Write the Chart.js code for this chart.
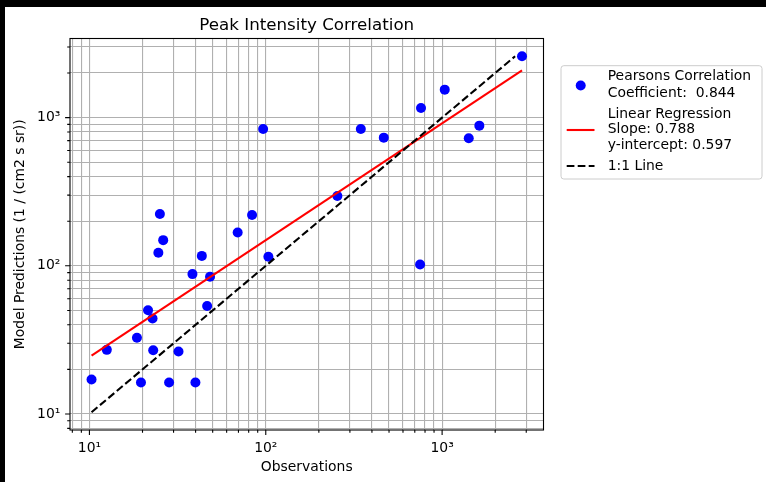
<!DOCTYPE html>
<html>
<head>
<meta charset="utf-8">
<title>Peak Intensity Correlation</title>
<script src="https://cdn.jsdelivr.net/npm/chart.js@4.4.0/dist/chart.umd.min.js"></script>
<style>
    html, body { margin:0; padding:0; background:#000; }
    #wrap { position:absolute; left:5px; top:7px; width:761px; height:475px; background:#fff; }
</style>
</head>
<body>
<div id="wrap"><canvas id="peakChart" width="761" height="475"></canvas></div>
<script>
// observed vs. modelled peak intensity, one entry per event
const observations = [10.28, 12.55, 18.6, 19.6, 21.5, 22.8, 23.0, 24.6, 25.1, 26.2,
    28.3, 32.0, 38.4, 39.9, 43.4, 46.5, 48.3, 69.3, 83.6, 103.5,
    96.6, 254.7, 346, 467, 759, 750, 1035, 1416, 1626, 2839];
const predictions = [17.1, 27.1, 32.7, 16.3, 50.2, 44.1, 26.9, 122.5, 224, 149,
    16.3, 26.4, 87.9, 16.3, 116.7, 53.5, 84.3, 168, 220, 115,
    839, 296, 839, 733, 1161, 102, 1545, 726, 883, 2594];

// fit results (log10 space)
const pearsonR = 0.844;
const fitSlope = 0.788;
const fitIntercept = 0.597;

// 1:1 reference line ends
const unityRange = [10.28, 2594];

// axis limits and tick values
const xLimits = [7.76, 3758];
const yLimits = [7.80, 3420];
const xTicks = [8, 9, 10, 20, 30, 40, 50, 60, 70, 80, 90, 100, 200, 300, 400, 500, 600, 700, 800, 900, 1000, 2000, 3000];
const yTicks = [8, 9, 10, 20, 30, 40, 50, 60, 70, 80, 90, 100, 200, 300, 400, 500, 600, 700, 800, 900, 1000, 2000, 3000];
const majorTicks = [10, 100, 1000];
const majorLabels = ['10\u00b9', '10\u00b2', '10\u00b3'];

const FONT = 'DejaVu Sans';

function isMajor(v) {
    return majorTicks.some(m => Math.abs(m - v) < 1e-9);
}
function tickLabel(v) {
    for (let i = 0; i < majorTicks.length; i++) {
        if (Math.abs(majorTicks[i] - v) < 1e-9) return majorLabels[i];
    }
    return '';
}

let points = [];
for (let i = 0; i < observations.length; i++) {
    points.push({x: observations[i], y: predictions[i]});
}

let xLo = Math.min(...observations);
let xHi = Math.max(...observations);
let fitLine = [
    {x: xLo, y: Math.pow(10, fitIntercept) * Math.pow(xLo, fitSlope)},
    {x: xHi, y: Math.pow(10, fitIntercept) * Math.pow(xHi, fitSlope)}
];
let unityLine = [
    {x: unityRange[0], y: unityRange[0]},
    {x: unityRange[1], y: unityRange[1]}
];

const pointLabel = ['Pearsons Correlation', 'Coefficient:  ' + pearsonR.toFixed(3)];
const fitLabel = ['Linear Regression', 'Slope: ' + fitSlope.toFixed(3), 'y-intercept: ' + fitIntercept.toFixed(3)];
const unityLabel = ['1:1 Line'];

// title, spines, tick marks and the boxed legend
const decorPlugin = {
    id: 'decor',
    afterDatasetsDraw(chart) {
        const ctx = chart.ctx;
        const a = chart.chartArea;
        const xs = chart.scales.x, ys = chart.scales.y;
        ctx.save();
        ctx.strokeStyle = '#000';
        ctx.lineWidth = 1.1;
        ctx.strokeRect(a.left, a.top, a.right - a.left, a.bottom - a.top);
        ctx.beginPath();
        xTicks.forEach(v => {
            let px = xs.getPixelForValue(v);
            let len = isMajor(v) ? 4.9 : 2.8;
            ctx.moveTo(px, a.bottom);
            ctx.lineTo(px, a.bottom + len);
        });
        yTicks.forEach(v => {
            let py = ys.getPixelForValue(v);
            let len = isMajor(v) ? 4.9 : 2.8;
            ctx.moveTo(a.left, py);
            ctx.lineTo(a.left - len, py);
        });
        ctx.stroke();

        ctx.fillStyle = '#000';
        ctx.font = '16.7px "' + FONT + '"';
        ctx.textAlign = 'center';
        ctx.textBaseline = 'alphabetic';
        ctx.fillText('Peak Intensity Correlation', (a.left + a.right) / 2, a.top - 8.3);
        ctx.restore();
    },
    afterDraw(chart) {
        const ctx = chart.ctx;
        ctx.save();
        // legend frame
        let bx = 556, by = 58.7, bw = 201, bh = 113.3, r = 2.8;
        ctx.beginPath();
        ctx.roundRect(bx, by, bw, bh, r);
        ctx.fillStyle = 'rgba(255,255,255,0.8)';
        ctx.fill();
        ctx.strokeStyle = '#cccccc';
        ctx.lineWidth = 1;
        ctx.stroke();

        ctx.font = '13.9px "' + FONT + '"';
        ctx.fillStyle = '#000';
        ctx.textAlign = 'left';
        ctx.textBaseline = 'middle';
        let tx = 602.7;
        let rows = [[69.7, 86.3], [107, 122.5, 138.7], [159]];
        let labels = [pointLabel, fitLabel, unityLabel];
        labels.forEach((lines, i) => {
            lines.forEach((t, j) => ctx.fillText(t, tx, rows[i][j]));
        });

        // handles
        ctx.fillStyle = '#0000ff';
        ctx.beginPath();
        ctx.arc(575.7, 78.5, 5, 0, Math.PI * 2);
        ctx.fill();

        ctx.strokeStyle = '#ff0000';
        ctx.lineWidth = 2.1;
        ctx.beginPath();
        ctx.moveTo(561.7, 123);
        ctx.lineTo(589.5, 123);
        ctx.stroke();

        ctx.strokeStyle = '#000';
        ctx.setLineDash([7.7, 3.3]);
        ctx.beginPath();
        ctx.moveTo(561.7, 159);
        ctx.lineTo(589.5, 159);
        ctx.stroke();
        ctx.restore();
    }
};

function logAxis(limits, tickValues, size, isX) {
    return {
        type: 'logarithmic',
        min: limits[0],
        max: limits[1],
        afterBuildTicks: function(scale) {
            scale.ticks = tickValues.map(v => ({value: v, major: isMajor(v)}));
        },
        afterFit: function(scale) {
            if (isX) scale.height = size;
            else scale.width = size;
        },
        border: {display: false},
        grid: {color: '#b0b0b0', lineWidth: 1.1, drawTicks: false},
        ticks: {
            autoSkip: false,
            maxRotation: 0,
            minRotation: 0,
            padding: 9.7,
            color: '#000',
            font: {family: FONT, size: 13.9},
            callback: function(value) { return tickLabel(value); }
        },
        title: {
            display: true,
            text: isX ? 'Observations' : 'Model Predictions (1 / (cm2 s sr))',
            color: '#000',
            font: {family: FONT, size: 13.9},
            padding: {top: 6.7, bottom: 6.7}
        }
    };
}

new Chart(document.getElementById('peakChart'), {
    type: 'scatter',
    data: {
        datasets: [{
            label: pointLabel,
            data: points,
            backgroundColor: '#0000ff',
            borderWidth: 0,
            pointRadius: 5,
            pointHoverRadius: 5,
            order: 3
        }, {
            label: fitLabel,
            data: fitLine,
            showLine: true,
            borderColor: '#ff0000',
            borderWidth: 2.1,
            pointRadius: 0,
            pointHoverRadius: 0,
            order: 2
        }, {
            label: unityLabel,
            data: unityLine,
            showLine: true,
            borderColor: '#000',
            borderWidth: 2.1,
            borderDash: [7.7, 3.3],
            pointRadius: 0,
            pointHoverRadius: 0,
            order: 1
        }]
    },
    options: {
        responsive: false,
        animation: false,
        events: [],
        layout: {padding: {left: 0, top: 31.5, right: 222.5, bottom: 0}},
        plugins: {
            legend: {display: false},
            tooltip: {enabled: false}
        },
        scales: {
            x: logAxis(xLimits, xTicks, 52, true),
            y: logAxis(yLimits, yTicks, 65, false)
        }
    },
    plugins: [decorPlugin]
});
</script>
</body>
</html>
